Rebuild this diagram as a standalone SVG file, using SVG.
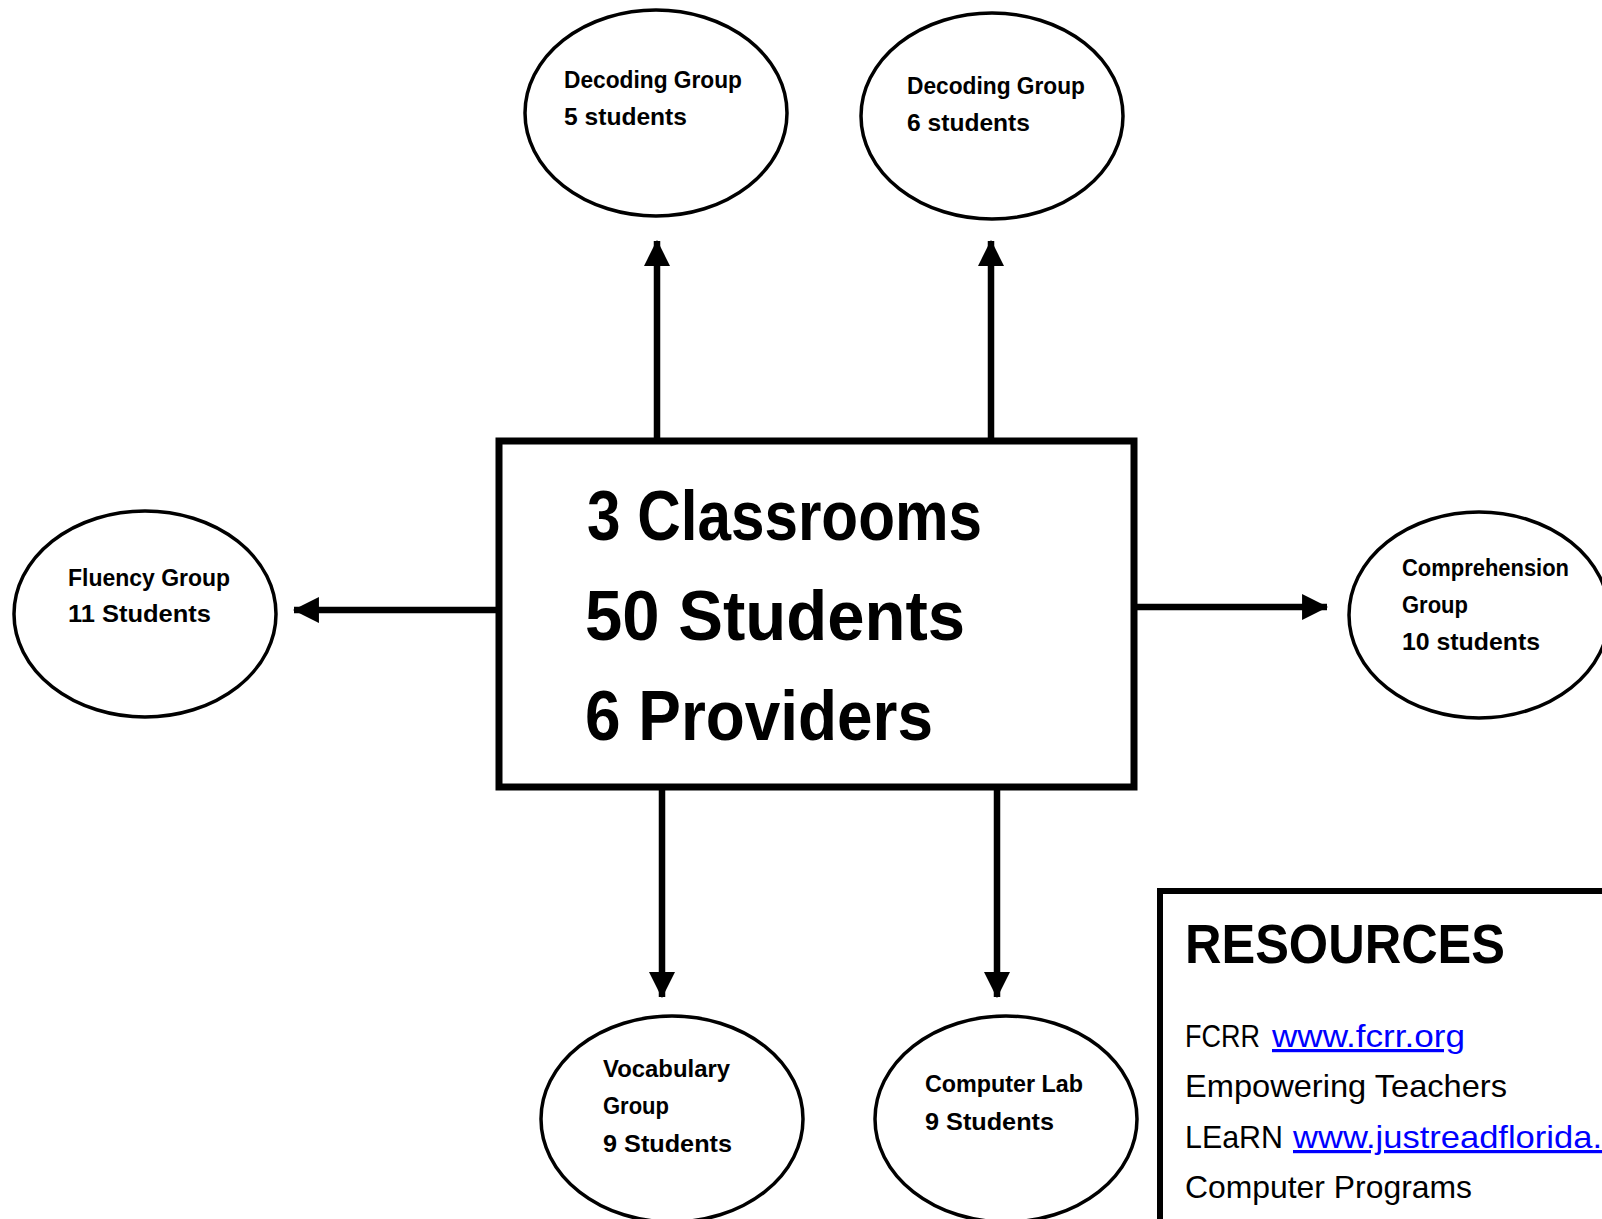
<svg xmlns="http://www.w3.org/2000/svg" width="1602" height="1219" viewBox="0 0 1602 1219">
<style>
.bg{fill:#fff}
.node{fill:#fff;stroke:#000;stroke-width:3.5}
.box{fill:#fff;stroke:#000;stroke-width:7}
.conn{stroke:#000;stroke-width:6.5;fill:none}
.lbl{font-family:"Comic Sans MS","Liberation Sans",sans-serif;font-weight:bold;font-size:24px;fill:#000}
.big{font-family:"Comic Sans MS","Liberation Sans",sans-serif;font-weight:bold;font-size:70px;fill:#000}
.head{font-family:"Comic Sans MS","Liberation Sans",sans-serif;font-weight:bold;font-size:56px;fill:#000}
.res{font-family:"Comic Sans MS","Liberation Sans",sans-serif;font-size:32px;fill:#000}
.link{fill:#0000ff;text-decoration:underline}
</style>
<defs>
<marker id="ah" markerUnits="userSpaceOnUse" markerWidth="26" markerHeight="26" viewBox="0 0 24 24" refX="23" refY="12" orient="auto">
<path d="M0,0 L24,12 L0,24 Z" fill="#000"/>
</marker>
</defs>
<rect class="bg" x="0" y="0" width="1602" height="1219"/>

<g id="connectors">
<line class="conn" x1="657" y1="441" x2="657" y2="241" marker-end="url(#ah)"/>
<line class="conn" x1="991" y1="441" x2="991" y2="241" marker-end="url(#ah)"/>
<line class="conn" x1="662" y1="787" x2="662" y2="997" marker-end="url(#ah)"/>
<line class="conn" x1="997" y1="787" x2="997" y2="997" marker-end="url(#ah)"/>
<line class="conn" x1="496" y1="610" x2="294" y2="610" marker-end="url(#ah)"/>
<line class="conn" x1="1136" y1="607" x2="1327" y2="607" marker-end="url(#ah)"/>
</g>

<g id="center">
<rect class="box" x="499" y="441" width="635" height="346"/>
<text class="big" x="587" y="540" textLength="395" lengthAdjust="spacingAndGlyphs">3 Classrooms</text>
<text class="big" x="585" y="640" textLength="380" lengthAdjust="spacingAndGlyphs">50 Students</text>
<text class="big" x="585" y="740" textLength="348" lengthAdjust="spacingAndGlyphs">6 Providers</text>
</g>

<g id="decoding5">
<ellipse class="node" cx="656" cy="113" rx="131" ry="103"/>
<text class="lbl" x="564" y="88" textLength="178" lengthAdjust="spacingAndGlyphs">Decoding Group</text>
<text class="lbl" x="564" y="125" textLength="123" lengthAdjust="spacingAndGlyphs">5 students</text>
</g>

<g id="decoding6">
<ellipse class="node" cx="992" cy="116" rx="131" ry="103"/>
<text class="lbl" x="907" y="94" textLength="178" lengthAdjust="spacingAndGlyphs">Decoding Group</text>
<text class="lbl" x="907" y="131" textLength="123" lengthAdjust="spacingAndGlyphs">6 students</text>
</g>

<g id="fluency">
<ellipse class="node" cx="145" cy="614" rx="131" ry="103"/>
<text class="lbl" x="68" y="586" textLength="162" lengthAdjust="spacingAndGlyphs">Fluency Group</text>
<text class="lbl" x="68" y="622" textLength="143" lengthAdjust="spacingAndGlyphs">11 Students</text>
</g>

<g id="comprehension">
<ellipse class="node" cx="1479" cy="615" rx="130" ry="103"/>
<text class="lbl" x="1402" y="576" textLength="167" lengthAdjust="spacingAndGlyphs">Comprehension</text>
<text class="lbl" x="1402" y="613" textLength="66" lengthAdjust="spacingAndGlyphs">Group</text>
<text class="lbl" x="1402" y="650" textLength="138" lengthAdjust="spacingAndGlyphs">10 students</text>
</g>

<g id="vocabulary">
<ellipse class="node" cx="672" cy="1119" rx="131" ry="103"/>
<text class="lbl" x="603" y="1077" textLength="127" lengthAdjust="spacingAndGlyphs">Vocabulary</text>
<text class="lbl" x="603" y="1114" textLength="66" lengthAdjust="spacingAndGlyphs">Group</text>
<text class="lbl" x="603" y="1152" textLength="129" lengthAdjust="spacingAndGlyphs">9 Students</text>
</g>

<g id="computerlab">
<ellipse class="node" cx="1006" cy="1119" rx="131" ry="103"/>
<text class="lbl" x="925" y="1092" textLength="158" lengthAdjust="spacingAndGlyphs">Computer Lab</text>
<text class="lbl" x="925" y="1130" textLength="129" lengthAdjust="spacingAndGlyphs">9 Students</text>
</g>

<g id="resources">
<rect fill="#fff" stroke="#000" stroke-width="6" x="1160" y="891" width="460" height="360"/>
<text class="head" x="1185" y="963" textLength="320" lengthAdjust="spacingAndGlyphs">RESOURCES</text>
<text class="res" x="1185" y="1047" textLength="75" lengthAdjust="spacingAndGlyphs">FCRR</text>
<text class="res link" x="1272" y="1047" textLength="193" lengthAdjust="spacingAndGlyphs">www.fcrr.org</text>
<text class="res" x="1185" y="1097" textLength="322" lengthAdjust="spacingAndGlyphs">Empowering Teachers</text>
<text class="res" x="1185" y="1148" textLength="98" lengthAdjust="spacingAndGlyphs">LEaRN</text>
<text class="res link" x="1293" y="1148" textLength="309" lengthAdjust="spacingAndGlyphs">www.justreadflorida.</text>
<text class="res" x="1185" y="1198" textLength="287" lengthAdjust="spacingAndGlyphs">Computer Programs</text>
</g>
</svg>
